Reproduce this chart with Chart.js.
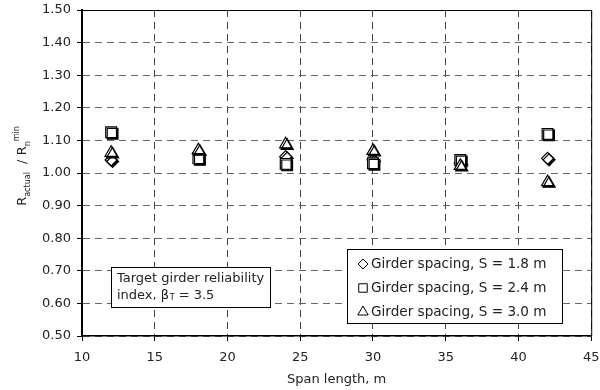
<!DOCTYPE html>
<html>
<head>
<meta charset="utf-8">
<script src="https://cdn.jsdelivr.net/npm/chart.js@4/dist/chart.umd.min.js"></script>
<style>
  html, body { margin: 0; padding: 0; background: #fff; }
</style>
</head>
<body>
<canvas id="myChart" width="600" height="390"></canvas>
<script>
const spans = [12, 18, 24, 30, 36, 42]
const spacing18 = [1.04, 1.06, 1.05, 1.04, 1.03, 1.045]
const spacing24 = [1.125, 1.045, 1.028, 1.03, 1.04, 1.12]
const spacing30 = [1.062, 1.07, 1.088, 1.068, 1.022, 0.972]
const seriesLabels = ['Girder spacing, S = 1.8 m', 'Girder spacing, S = 2.4 m', 'Girder spacing, S = 3.0 m']
const xTickValues = [10, 15, 20, 25, 30, 35, 40, 45]
const yTickValues = [0.5, 0.6, 0.7, 0.8, 0.9, 1.0, 1.1, 1.2, 1.3, 1.4, 1.5]

const FONT = '"DejaVu Sans", Verdana, sans-serif'
const TEXT = '#222'
Chart.defaults.font.family = FONT
Chart.defaults.color = TEXT

function points(values) {
  return spans.map((s, i) => ({ x: s, y: values[i] }))
}

function series(label, values, style, radius, order) {
  return {
    label: label,
    data: points(values),
    order: order,
    pointStyle: style,
    pointRadius: radius,
    pointHoverRadius: radius,
    pointBackgroundColor: '#fff',
    pointBorderColor: '#000',
    pointBorderWidth: 1.2,
    showLine: false
  }
}

// marker shadow, like the 3D markers of the original
const shadowPlugin = {
  id: 'shadow',
  beforeDatasetsDraw(chart) {
    const ctx = chart.ctx
    ctx.save()
    ctx.shadowColor = '#000'
    ctx.shadowOffsetX = 1.5
    ctx.shadowOffsetY = 1.5
    ctx.shadowBlur = 0
  },
  afterDatasetsDraw(chart) {
    chart.ctx.restore()
  }
}

function drawYTitle(ctx, cx, cy) {
  const big = '13px ' + FONT
  const small = '8px ' + FONT
  const parts = [
    { t: 'R', f: big, dy: 0 },
    { t: 'actual', f: small, dy: 4 },
    { t: '  / R', f: big, dy: 0 },
    { t: 'n', f: small, dy: 4 },
    { t: 'min', f: small, dy: -7 }
  ]
  let total = 0
  parts.forEach(p => { ctx.font = p.f; p.w = ctx.measureText(p.t).width; total += p.w })
  ctx.save()
  ctx.translate(cx, cy)
  ctx.rotate(-Math.PI / 2)
  ctx.fillStyle = TEXT
  ctx.textBaseline = 'alphabetic'
  let x = -total / 2
  parts.forEach(p => { ctx.font = p.f; ctx.fillText(p.t, x, p.dy); x += p.w })
  ctx.restore()
}

const boxesPlugin = {
  id: 'boxes',
  afterDraw(chart) {
    const ctx = chart.ctx
    const a = chart.chartArea
    ctx.save()
    // top and right frame
    ctx.strokeStyle = '#000'
    ctx.lineWidth = 1
    ctx.beginPath()
    ctx.moveTo(a.left, a.top + 0.5)
    ctx.lineTo(a.right + 0.5, a.top + 0.5)
    ctx.lineTo(a.right + 0.5, a.bottom)
    ctx.stroke()

    // note box
    ctx.fillStyle = '#fff'
    ctx.fillRect(111, 267, 159, 40)
    ctx.strokeRect(111.5, 267.5, 159, 40)
    ctx.fillStyle = TEXT
    ctx.textBaseline = 'middle'
    ctx.textAlign = 'left'
    ctx.font = '13px ' + FONT
    ctx.fillText('Target girder reliability', 117, 279)
    let x = 117
    const t1 = 'index, \u03b2'
    ctx.fillText(t1, x, 296)
    x += ctx.measureText(t1).width
    ctx.font = '8px ' + FONT
    ctx.fillText('T', x + 0.5, 298)
    x += ctx.measureText('T').width + 0.5
    ctx.font = '13px ' + FONT
    ctx.fillText(' = 3.5', x, 296)

    // legend box
    ctx.fillStyle = '#fff'
    ctx.fillRect(347, 249, 215, 74)
    ctx.strokeStyle = '#000'
    ctx.strokeRect(347.5, 249.5, 215, 74)
    const rows = [264, 288, 312]
    chart.data.datasets.forEach((ds, i) => {
      ctx.fillStyle = '#fff'
      ctx.strokeStyle = '#000'
      ctx.lineWidth = 1
      Chart.helpers.drawPoint(ctx, { pointStyle: ds.pointStyle, radius: ds.pointStyle === 'rectRot' ? 5 : 6, rotation: 0, borderWidth: 1 }, 363, rows[i])
      ctx.fillStyle = TEXT
      ctx.font = '13.6px ' + FONT
      ctx.fillText(ds.label, 371, rows[i])
    })
    ctx.restore()

    drawYTitle(ctx, 26, 166)
  }
}

const data = {
  datasets: [
    series(seriesLabels[0], spacing18, 'rectRot', 6, 3),
    series(seriesLabels[1], spacing24, 'rect', 7.6, 2),
    series(seriesLabels[2], spacing30, 'triangle', 7, 1)
  ]
}

const config = {
  type: 'scatter',
  data,
  options: {
    responsive: false,
    devicePixelRatio: 1,
    animation: false,
    layout: { padding: { top: 10, right: 7, left: 0, bottom: 0 } },
    plugins: {
      legend: { display: false },
      tooltip: { enabled: false }
    },
    scales: {
      x: {
        type: 'linear',
        min: 10,
        max: 45,
        afterBuildTicks: s => { s.ticks = xTickValues.map(v => ({ value: v })) },
        afterFit: s => { s.height = 54; s.paddingLeft = 0; s.paddingRight = 0 },
        ticks: { font: { size: 13 }, color: TEXT, padding: 9, maxRotation: 0 },
        grid: { color: '#444', lineWidth: 1, tickLength: 5, tickColor: '#000', tickBorderDash: [] },
        border: { color: '#000', width: 1.5, dash: [7, 5] },
        title: { display: true, text: 'Span length, m', font: { size: 13 }, color: TEXT, padding: { top: 2, bottom: 3 } }
      },
      y: {
        min: 0.5,
        max: 1.5,
        afterBuildTicks: s => { s.ticks = yTickValues.map(v => ({ value: v })) },
        afterFit: s => { s.width = 82; s.paddingTop = 0; s.paddingBottom = 0 },
        ticks: { font: { size: 13 }, color: TEXT, padding: 6, callback: v => v.toFixed(2) },
        grid: { color: '#666', lineWidth: 1, tickLength: 5, tickColor: '#000', tickBorderDash: [] },
        border: { color: '#000', width: 2, dash: [7, 5] },
        title: { display: false }
      }
    }
  },
  plugins: [shadowPlugin, boxesPlugin]
}

const myChart = new Chart(document.querySelector('#myChart'), config)
</script>
</body>
</html>
